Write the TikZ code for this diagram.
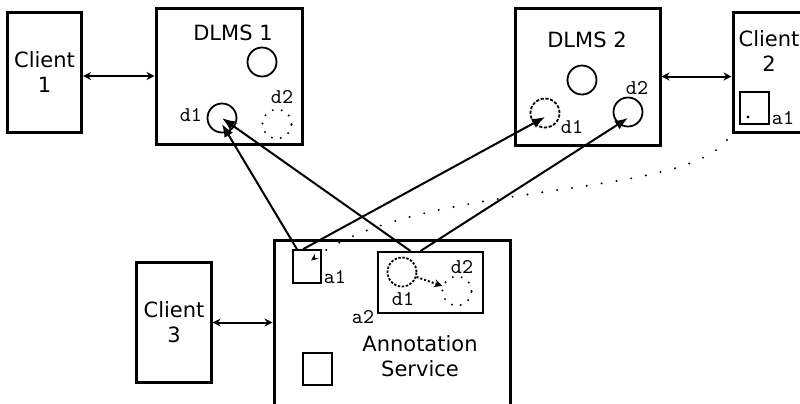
\documentclass[tikz,border=0pt]{standalone}
\usepackage{fontspec}
\setmainfont{DejaVu Sans}
\usetikzlibrary{positioning,arrows.meta}

\begin{document}
\begin{tikzpicture}[x=0.5pt, y=-0.5pt,
	box/.style = {shape=rectangle, draw, line width=1.5pt, align=center,
		font=\fontsize{10.5}{12.5}\selectfont},
	title/.style = {align=center, inner sep=0pt, font=\fontsize{10.5}{12.5}\selectfont},
	doc/.style = {shape=circle, draw, line width=0.9pt, minimum size=14.5pt, inner sep=0pt},
	ann/.style = {shape=rectangle, draw, line width=0.8pt, inner sep=0pt},
	tag/.style = {inner sep=0pt, font=\fontsize{10.5}{11}\ttfamily},
	sparse/.style = {line width=1.1pt, line cap=round, dash pattern=on 0pt off 4.5pt},
	linkarrow/.style = {{Stealth[length=4pt,width=4pt]}-{Stealth[length=4pt,width=4pt]}, line width=1pt},
	refarrow/.style = {-{Latex[length=6.5pt,width=5pt]}, line width=1pt}]
	\useasboundingbox (0,0) rectangle (800,403);
	\clip (0,0) rectangle (800,403);

	% clients
	\node[box, minimum width=36.5pt, minimum height=60pt] (c1) at (44.5,72) {Client\\1};
	\node[box, minimum width=38.5pt, minimum height=60pt] (c2) at (771.5,72) {};
	\node[title] (c2txt) at (769,51) {Client\\2};
	\node[box, minimum width=36pt, minimum height=60pt] (c3) at (174,322.5) {Client\\3};

	% DLMS 1
	\node[box, minimum width=73pt, minimum height=68pt] (dl1) at (229,76) {};
	\node[title] (dl1txt) at (233,33) {DLMS 1};
	\node[doc] (dl1e) at (262,62) {};
	\node[doc] (dl1d1) at (222,118) {};
	\node[doc, sparse] (dl1d2) at (277,124) {};
	\node[tag] (dl1l1) at (191,115) {d1};
	\node[tag] (dl1l2) at (282,97) {d2};

	% DLMS 2
	\node[box, minimum width=72.5pt, minimum height=68.5pt] (dl2) at (587.5,76.5) {};
	\node[title] (dl2txt) at (587,40) {DLMS 2};
	\node[doc] (dl2e) at (582,80) {};
	\node[doc, dash pattern=on 1.6pt off 0.8pt] (dl2d1) at (545,113) {};
	\node[doc] (dl2d2) at (628,112) {};
	\node[tag] (dl2l1) at (572,127) {d1};
	\node[tag] (dl2l2) at (637,88) {d2};

	% annotation on client 2
	\node[ann, minimum width=14.5pt, minimum height=16pt] (c2a1) at (754.5,108) {};
	\fill (748,117) circle (0.8pt);
	\node[tag] (c2l1) at (783,118) {a1};

	% annotation service
	\node[box, minimum width=118pt, minimum height=95pt] (as) at (392,335) {};
	\node[title] (astxt) at (420,356) {Annotation\\Service};
	\node[ann, minimum width=14pt, minimum height=16.5pt] (asa1) at (307,266.5) {};
	\node[ann, line width=1pt, minimum width=52.5pt, minimum height=30.5pt] (asa2) at (430.5,282.5) {};
	\node[ann, line width=1pt, minimum width=14.5pt, minimum height=16pt] (asa3) at (317.5,369) {};
	\node[doc, dash pattern=on 1.2pt off 0.8pt] (asd1) at (402,272) {};
	\node[doc, sparse] (asd2) at (457,291) {};
	\node[tag] (asl1) at (335,277) {a1};
	\node[tag] (asl2) at (363,317) {a2};
	\node[tag] (asl3) at (462,267) {d2};
	\node[tag] (asl4) at (403,299) {d1};

	% connections
	\draw[linkarrow] (dl1.west -| c1.east) -- (dl1.west);
	\draw[linkarrow] (dl2.east) -- (dl2.east -| c2.west);
	\draw[linkarrow] (c3.east) -- (c3.east -| as.west);

	% references
	\draw[refarrow] ([xshift=-5pt]asa1.north) -- ([yshift=-3pt]dl1d1.center);
	\draw[refarrow] ([xshift=-2pt]asa1.north) -- ([yshift=-2pt]dl2d1.center);
	\draw[refarrow] ([xshift=-10pt]asa2.north) -- (dl1d1.center);
	\draw[refarrow] ([xshift=-5pt]asa2.north) -- ([yshift=-3pt]dl2d2.center);
	\draw[line width=1pt, densely dotted, -{Stealth[length=4pt,width=4pt]}] (asd1) -- (asd2);

	% copy of a1
	\coordinate (c2out) at (727,140);
	\draw[line width=1.1pt, line cap=round, dash pattern=on 0pt off 7.5pt,
		-{Stealth[length=3.5pt,width=3pt]}]
		(c2out) .. controls (680,200) and (420,180) .. ([xshift=2pt,yshift=3pt]asa1.center);
\end{tikzpicture}
\end{document}
